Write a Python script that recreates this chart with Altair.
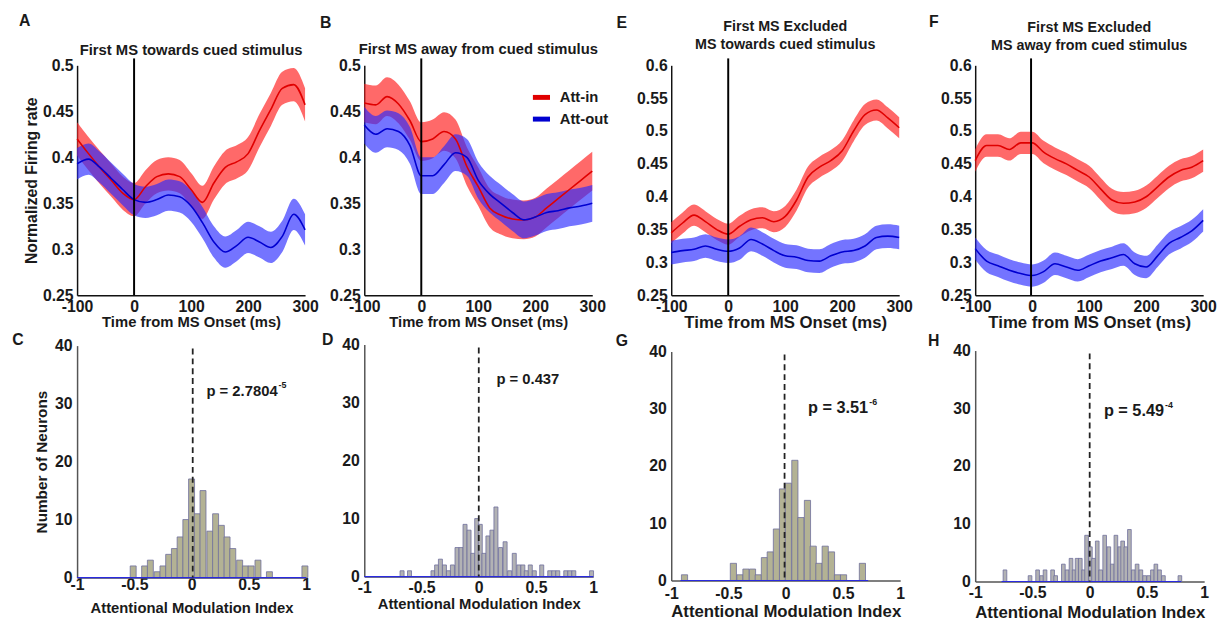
import altair as alt
import pandas as pd

FONT = "Liberation Sans"
TEXT = "#1a1a1a"
RED_LINE = "#e00000"
BLUE_LINE = "#0000d0"
RED_BAND = "#ff2a2a"
BLUE_BAND = "#2a2aff"
BAR_OLIVE = "#b3b294"
BAR_GRAY = "#b2b2b4"

# ---------------- time courses (normalized firing rate) ----------------
T = [-100, -80, -60, -40, -20, 0, 20, 40, 60, 80, 100, 120, 140, 160, 180, 200, 220, 240, 260, 280, 300]

A_IN = [0.420, 0.404, 0.389, 0.375, 0.361, 0.354, 0.368, 0.379, 0.382, 0.379, 0.365, 0.351, 0.372, 0.389, 0.395, 0.404, 0.429, 0.452, 0.475, 0.479, 0.457]
A_OUT = [0.393, 0.398, 0.389, 0.377, 0.365, 0.354, 0.351, 0.354, 0.359, 0.357, 0.347, 0.329, 0.308, 0.297, 0.304, 0.313, 0.308, 0.302, 0.314, 0.338, 0.321]
B_IN = [0.459, 0.457, 0.466, 0.458, 0.440, 0.417, 0.420, 0.428, 0.420, 0.390, 0.368, 0.345, 0.337, 0.333, 0.332, 0.335, 0.345, 0.355, 0.365, 0.375, 0.385]
B_OUT = [0.435, 0.425, 0.431, 0.428, 0.413, 0.380, 0.380, 0.392, 0.405, 0.400, 0.375, 0.360, 0.350, 0.340, 0.332, 0.335, 0.340, 0.342, 0.345, 0.347, 0.350]
E_IN = [0.345, 0.360, 0.372, 0.362, 0.350, 0.343, 0.355, 0.365, 0.368, 0.362, 0.370, 0.395, 0.430, 0.445, 0.455, 0.470, 0.500, 0.525, 0.532, 0.520, 0.505]
E_OUT = [0.315, 0.318, 0.320, 0.325, 0.320, 0.317, 0.322, 0.335, 0.328, 0.318, 0.310, 0.308, 0.303, 0.302, 0.310, 0.316, 0.318, 0.325, 0.338, 0.340, 0.338]
F_IN = [0.455, 0.478, 0.478, 0.472, 0.482, 0.482, 0.468, 0.458, 0.450, 0.440, 0.430, 0.412, 0.395, 0.390, 0.392, 0.400, 0.415, 0.430, 0.440, 0.445, 0.455]
F_OUT = [0.321, 0.302, 0.295, 0.288, 0.283, 0.280, 0.286, 0.298, 0.293, 0.288, 0.295, 0.302, 0.307, 0.312, 0.298, 0.293, 0.310, 0.329, 0.338, 0.348, 0.364]

SEM = {"A": (0.018, 0.017), "B": (0.021, 0.020), "E": (0.016, 0.018), "F": (0.017, 0.017)}

X_TICKS_T = [-100, 0, 100, 200, 300]
Y_TICKS_AB = [0.25, 0.3, 0.35, 0.4, 0.45, 0.5]
Y_TICKS_EF = [0.25, 0.3, 0.35, 0.4, 0.45, 0.5, 0.55, 0.6]

TITLES = {
    "A": "First MS towards cued stimulus",
    "B": "First MS away from cued stimulus",
    "E": "First MS Excluded\nMS towards cued stimulus",
    "F": "First MS Excluded\nMS away from cued stimulus",
}

# ---------------- histograms (attentional modulation index) ----------------
C_CENTERS = [-0.51, -0.41, -0.36, -0.30, -0.25, -0.20, -0.15, -0.10, -0.05, 0.00, 0.05, 0.10, 0.16, 0.21, 0.26, 0.31, 0.36, 0.42, 0.47, 0.52, 0.58, 0.68, 0.99]
C_COUNTS = [2, 2, 3, 1, 2, 4, 5, 7, 10, 17, 11, 15, 8, 11, 9, 7, 5, 3, 2, 2, 3, 1, 2]
D_CENTERS = [-0.67, -0.605, -0.40, -0.368, -0.335, -0.30, -0.265, -0.23, -0.19, -0.155, -0.12, -0.085, -0.052, -0.018, 0.013, 0.045, 0.08, 0.115, 0.15, 0.19, 0.23, 0.27, 0.31, 0.35, 0.385, 0.415, 0.45, 0.485, 0.55, 0.62, 0.655, 0.69, 0.76, 0.795, 0.83, 0.985]
D_COUNTS = [1, 1, 1, 2, 3, 2, 1, 2, 5, 5, 9, 8, 4, 10, 9, 4, 7, 8, 12, 5, 6, 1, 4, 2, 2, 1, 2, 1, 2, 1, 1, 1, 1, 1, 1, 1]
G_CENTERS = [-0.884, -0.457, -0.40, -0.347, -0.29, -0.24, -0.186, -0.135, -0.081, -0.028, 0.023, 0.08, 0.133, 0.19, 0.24, 0.29, 0.345, 0.40, 0.452, 0.505, 0.67]
G_COUNTS = [1, 3, 1, 2, 2, 1, 4, 5, 9, 16, 17, 21, 11, 14, 6, 3, 6, 5, 1, 1, 3]
H_CENTERS = [-0.74, -0.521, -0.455, -0.42, -0.39, -0.324, -0.297, -0.23, -0.197, -0.163, -0.136, -0.11, -0.082, -0.053, -0.027, 0.006, 0.034, 0.066, 0.096, 0.131, 0.167, 0.197, 0.229, 0.263, 0.288, 0.316, 0.347, 0.381, 0.414, 0.447, 0.48, 0.515, 0.548, 0.578, 0.61, 0.644, 0.788]
H_COUNTS = [2, 1, 2, 1, 2, 2, 1, 3, 2, 4, 2, 4, 4, 2, 8, 6, 4, 7, 2, 8, 6, 3, 8, 6, 7, 6, 9, 2, 3, 2, 1, 1, 2, 3, 2, 1, 1]
BIN_WIDTH = {"C": 0.052, "D": 0.035, "G": 0.054, "H": 0.032}
BASELINE = {"C": (-1.0, 1.0), "D": (-1.0, 1.0), "G": (-0.92, 0.72), "H": (-0.77, 0.80)}
DASH_X = {"C": 0.01, "D": 0.0, "G": -0.01, "H": 0.0}
DASH_TOP = 39.5
P_TEXT = {"C": ("p = 2.7804", "-5", 0.13, 32.2), "D": ("p = 0.437", "", 0.154, 34.0),
          "G": ("p = 3.51", "-6", 0.195, 30.2), "H": ("p = 5.49", "-4", 0.124, 29.5)}
X_TICKS_H = [-1, -0.5, 0, 0.5, 1]
Y_TICKS_H = [0, 10, 20, 30, 40]

TW, TH = 231, 233

CSCALE = alt.Scale(domain=["Att-in", "Att-out"], range=[RED_LINE, BLUE_LINE])


def text_layer(txt, tx, ty, size, baseline="middle"):
    return alt.Chart(pd.DataFrame({"L": [txt]})).mark_text(
        font=FONT, fontSize=size, fontWeight="bold", color=TEXT, align="center", baseline=baseline,
        lineBreak="\n", lineHeight=18
    ).encode(text="L:N", x=alt.value(tx), y=alt.value(ty))


def top_panel(key, inn, out, ymax, yvals, lx, ly, ty, tsize, xt_size, ytitle="", legend=False, zero=0):
    sem_in, sem_out = SEM[key]
    rows = [dict(t=t, s="Att-in", m=v, e=sem_in) for t, v in zip(T, inn)]
    rows += [dict(t=t, s="Att-out", m=v, e=sem_out) for t, v in zip(T, out)]
    df = pd.DataFrame(rows)
    base = alt.Chart(df).transform_calculate(lo="datum.m - datum.e", hi="datum.m + datum.e")
    xax = alt.Axis(values=X_TICKS_T, labelExpr="'' + datum.value", title="Time from MS Onset (ms)",
                   titleFontSize=xt_size, labelFontSize=16, labelPadding=3, titlePadding=1,
                   domainColor="#111")
    yax = alt.Axis(values=yvals, format=".2~f", title=ytitle, titleFontSize=16, labelFontSize=16,
                   labelPadding=4, titlePadding=3, domainColor="#111")
    xs = alt.Scale(domain=[-100, 300], nice=False, zero=False)
    ys = alt.Scale(domain=[0.25, ymax], nice=False, zero=False)
    x = alt.X("t:Q", scale=xs, axis=xax)
    band_in = base.transform_filter("datum.s == 'Att-in'").mark_area(
        color=RED_BAND, opacity=0.7, interpolate="monotone"
    ).encode(x=x, y=alt.Y("lo:Q", scale=ys, axis=yax), y2="hi:Q")
    band_out = base.transform_filter("datum.s == 'Att-out'").mark_area(
        color=BLUE_BAND, opacity=0.65, interpolate="monotone"
    ).encode(x=x, y=alt.Y("lo:Q", scale=ys, axis=yax), y2="hi:Q")
    if legend:
        leg = alt.Legend(orient="none", legendX=168, legendY=21, title="", symbolType="stroke",
                         symbolStrokeWidth=5, symbolSize=300, labelFont=FONT, labelFontSize=15,
                         labelFontWeight="bold", labelColor=TEXT, rowPadding=0, labelOffset=7)
        col = alt.Color("s:N", scale=CSCALE, legend=leg)
    else:
        col = alt.Color("s:N", scale=CSCALE, legend=None)
    lines = base.mark_line(strokeWidth=1.6, interpolate="monotone").encode(
        x=x, y=alt.Y("m:Q", scale=ys, axis=yax), color=col)
    rule = alt.Chart(pd.DataFrame({"t": [zero]})).mark_rule(color="black", strokeWidth=2).encode(
        x=x, y=alt.value(-7), y2=alt.value(TH))
    title = text_layer(TITLES[key], TW / 2, ty, tsize, baseline="alphabetic")
    letter = text_layer(key, lx, ly, 16)
    return alt.layer(band_in, band_out, lines, rule, title, letter).properties(width=TW, height=TH)


def hist_panel(key, centers, counts, fill, lx, ly, xt_size, bh, ytitle="", plab_size=15, lab_pad=2,
               tpad=1):
    w = BIN_WIDTH[key]
    df = pd.DataFrame({"c": centers, "n": counts})
    xax = alt.Axis(values=X_TICKS_H, labelExpr="'' + datum.value", title="Attentional Modulation Index",
                   titleFontSize=xt_size, labelFontSize=16, labelPadding=lab_pad, titlePadding=tpad,
                   domainColor="#555")
    yax = alt.Axis(values=Y_TICKS_H, title=ytitle, titleFontSize=15.5, labelFontSize=16,
                   labelPadding=5, titlePadding=5, domainColor="#555")
    xs = alt.Scale(domain=[-1, 1], nice=False, zero=False)
    ys = alt.Scale(domain=[0, 40], nice=False)
    bars = alt.Chart(df).transform_calculate(
        lo=f"datum.c - {w / 2}", hi=f"datum.c + {w / 2}"
    ).mark_rect(fill=fill, stroke="#6e6e9c", strokeWidth=0.8).encode(
        x=alt.X("lo:Q", scale=xs, axis=xax), x2="hi:Q",
        y=alt.Y("n:Q", scale=ys, axis=yax), y2=alt.datum(0))
    b0, b1 = BASELINE[key]
    base_line = alt.Chart(pd.DataFrame({"a": [b0], "b": [b1]})).mark_rule(
        color="#2a2ae0", strokeWidth=1.2).encode(
        x=alt.X("a:Q", scale=xs, axis=xax), x2="b:Q", y=alt.datum(0))
    dash = alt.Chart(pd.DataFrame({"z": [DASH_X[key]], "top": [DASH_TOP]})).mark_rule(
        color="#222", strokeWidth=1.8, strokeDash=[6, 4]).encode(
        x=alt.X("z:Q", scale=xs, axis=xax), y=alt.Y("top:Q", scale=ys, axis=yax), y2=alt.datum(0))
    ptxt, psup, px, py = P_TEXT[key]
    pdf = pd.DataFrame({"x": [px], "y": [py], "txt": [ptxt], "sup": [psup]})
    ptext = alt.Chart(pdf).mark_text(font=FONT, fontSize=plab_size, fontWeight="bold", color=TEXT,
                                     align="left", baseline="middle").encode(
        x=alt.X("x:Q", scale=xs, axis=xax), y=alt.Y("y:Q", scale=ys, axis=yax), text="txt:N")
    layers = [bars, base_line, dash, ptext]
    if psup:
        sup_dx = round((4.81 if key == "C" else 3.70) * plab_size) + 1
        stext = alt.Chart(pdf).mark_text(font=FONT, fontSize=9, fontWeight="bold", color=TEXT,
                                         align="left", baseline="middle", dx=sup_dx, dy=-6).encode(
            x=alt.X("x:Q", scale=xs, axis=xax), y=alt.Y("y:Q", scale=ys, axis=yax), text="sup:N")
        layers.append(stext)
    layers.append(text_layer(key, lx, ly, 16))
    return alt.layer(*layers).properties(width=232, height=bh)


A = top_panel("A", A_IN, A_OUT, 0.5, Y_TICKS_AB, -53, -45, -10, 15, 15, ytitle="Normalized Firing rate")
B = top_panel("B", B_IN, B_OUT, 0.5, Y_TICKS_AB, -39, -43, -11, 15, 15, legend=True)
E = top_panel("E", E_IN, E_OUT, 0.6, Y_TICKS_EF, -50, -43, -35, 14.5, 17)
F = top_panel("F", F_IN, F_OUT, 0.6, Y_TICKS_EF, -42, -44, -34, 14.5, 17, zero=-2)

C = hist_panel("C", C_CENTERS, C_COUNTS, BAR_OLIVE, -60, -6, 15, 235, ytitle="Number of Neurons",
               lab_pad=-1, tpad=8)
D = hist_panel("D", D_CENTERS, D_COUNTS, BAR_GRAY, -37, -5, 15, 235, lab_pad=3)
G = hist_panel("G", G_CENTERS, G_COUNTS, BAR_OLIVE, -50, -11, 17, 232, plab_size=16.5, lab_pad=5, tpad=2)
H = hist_panel("H", H_CENTERS, H_COUNTS, BAR_GRAY, -42, -10, 17, 234, plab_size=16.5, lab_pad=3, tpad=4)


def column(top, bottom):
    return alt.vconcat(top, bottom, spacing=2).resolve_scale(color="independent").resolve_legend(
        color="independent")


def pair(c1, c2, sp):
    return alt.hconcat(c1, c2, spacing=sp).resolve_scale(color="independent").resolve_legend(
        color="independent")


chart = alt.hconcat(pair(column(A, C), column(B, D), 1), pair(column(E, G), column(F, H), 15),
                    spacing=6).resolve_scale(color="independent").resolve_legend(
    color="independent").properties(
    padding={"left": 4, "top": 1, "right": 0, "bottom": 0}
).configure_view(stroke=None).configure_axis(
    grid=False, ticks=False, labelFont=FONT, labelFontWeight="bold", labelColor=TEXT,
    titleFont=FONT, titleFontWeight="bold", titleColor=TEXT, domainWidth=1.5,
    labelFlush=False, labelOverlap=False
)

chart.save("out.html", embed_options={"renderer": "svg", "actions": False})
